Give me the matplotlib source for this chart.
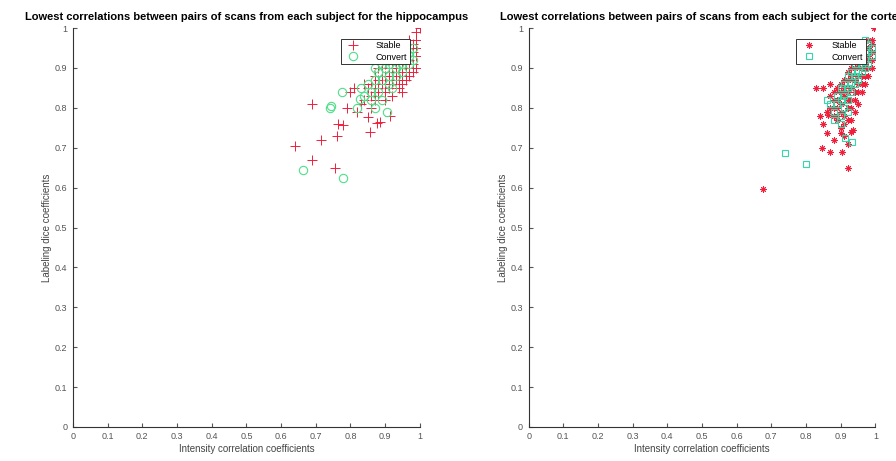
import numpy as np
import matplotlib.pyplot as plt

plt.rcParams['font.family'] = ['Liberation Sans', 'DejaVu Sans']

# hippocampus: lowest correlations per subject
hip_stable_x = [0.64, 0.69, 0.715, 0.69, 0.755, 0.764, 0.78, 0.76, 0.856, 0.876, 0.885, 0.82,
                0.85, 0.913, 0.80, 0.79, 0.83, 0.86, 0.88, 0.81, 0.84, 0.99, 1.0, 0.99,
                0.86, 0.87, 0.88, 0.89, 0.90, 0.91, 0.92, 0.93, 0.94, 0.95, 0.96, 0.97,
                0.98, 0.97, 0.96, 0.95, 0.94, 0.93, 0.92, 0.91, 0.90, 0.89, 0.88, 0.87,
                0.86, 0.90, 0.91, 0.92, 0.93, 0.94, 0.95, 0.96, 0.97, 0.98, 0.99, 0.98,
                0.97, 0.99, 0.89, 0.88, 0.87, 0.92, 0.93, 0.94, 0.95, 0.96, 0.90, 0.91,
                0.92, 0.93, 0.85, 0.84, 0.87, 0.90, 0.92, 0.95, 0.97, 0.98, 0.99, 0.96]
hip_stable_y = [0.704, 0.67, 0.72, 0.81, 0.65, 0.76, 0.757, 0.73, 0.74, 0.762, 0.765, 0.79,
                0.777, 0.78, 0.84, 0.80, 0.81, 0.80, 0.83, 0.85, 0.86, 0.97, 1.0, 0.99,
                0.86, 0.88, 0.87, 0.90, 0.88, 0.89, 0.90, 0.91, 0.92, 0.90, 0.93, 0.92,
                0.94, 0.95, 0.91, 0.88, 0.87, 0.89, 0.86, 0.85, 0.84, 0.86, 0.85, 0.84,
                0.83, 0.91, 0.92, 0.93, 0.94, 0.90, 0.92, 0.89, 0.90, 0.91, 0.93, 0.96,
                0.97, 0.95, 0.88, 0.90, 0.86, 0.88, 0.87, 0.85, 0.86, 0.87, 0.86, 0.87,
                0.91, 0.92, 0.85, 0.82, 0.82, 0.82, 0.83, 0.84, 0.88, 0.89, 0.90, 0.95]
hip_convert_x = [0.663, 0.778, 0.745, 0.775, 0.74, 0.827, 0.86, 0.87, 0.905, 0.83, 0.85, 0.87,
                 0.88, 0.89, 0.90, 0.91, 0.92, 0.93, 0.94, 0.95, 0.96, 0.97, 0.95, 0.93,
                 0.91, 0.89, 0.90, 0.92, 0.94, 0.96, 0.97, 0.98, 0.88, 0.86, 0.84, 0.82,
                 0.91, 0.93, 0.95, 0.97, 0.98, 0.89, 0.92, 0.87, 0.94]
hip_convert_y = [0.644, 0.624, 0.805, 0.84, 0.80, 0.822, 0.82, 0.80, 0.79, 0.85, 0.86, 0.87,
                 0.89, 0.87, 0.90, 0.88, 0.92, 0.90, 0.93, 0.91, 0.92, 0.94, 0.94, 0.93,
                 0.91, 0.91, 0.93, 0.94, 0.95, 0.96, 0.93, 0.92, 0.84, 0.84, 0.83, 0.80,
                 0.86, 0.88, 0.89, 0.91, 0.95, 0.82, 0.85, 0.90, 0.91]

# cortex: lowest correlations per subject
ctx_stable_x = [0.676, 0.92, 0.846, 0.87, 0.905, 0.86, 0.90, 0.936, 0.864, 0.89, 0.84, 0.85,
                0.995, 0.88, 0.92, 0.83, 0.85, 0.87,
                0.88, 0.89, 0.90, 0.91, 0.92, 0.93, 0.94, 0.95, 0.96, 0.97, 0.98, 0.99,
                0.99, 0.98, 0.97, 0.96, 0.95, 0.94, 0.93, 0.92, 0.91, 0.90, 0.89, 0.90,
                0.91, 0.92, 0.93, 0.94, 0.95, 0.96, 0.97, 0.98, 0.99, 0.98, 0.97, 0.96,
                0.95, 0.94, 0.93, 0.92, 0.91, 0.90, 0.89, 0.88, 0.87, 0.88, 0.89, 0.92,
                0.93, 0.94, 0.95, 0.96, 0.97, 0.98, 0.99, 0.99, 0.98, 0.97, 0.96, 0.91,
                0.93, 0.90, 0.88, 0.87, 0.86, 0.95, 0.94, 0.92, 0.93, 0.91]
ctx_stable_y = [0.596, 0.65, 0.70, 0.69, 0.69, 0.737, 0.737, 0.744, 0.782, 0.77, 0.78, 0.76,
                1.0, 0.72, 0.71, 0.85, 0.85, 0.86,
                0.80, 0.82, 0.84, 0.85, 0.87, 0.88, 0.90, 0.91, 0.92, 0.93, 0.95, 0.96,
                0.94, 0.92, 0.90, 0.88, 0.86, 0.84, 0.82, 0.80, 0.78, 0.79, 0.78, 0.81,
                0.83, 0.84, 0.85, 0.87, 0.88, 0.90, 0.91, 0.93, 0.97, 0.97, 0.95, 0.94,
                0.93, 0.92, 0.90, 0.89, 0.87, 0.86, 0.85, 0.84, 0.83, 0.82, 0.80, 0.82,
                0.80, 0.82, 0.84, 0.86, 0.88, 0.90, 0.92, 0.90, 0.88, 0.86, 0.84, 0.76,
                0.77, 0.75, 0.78, 0.80, 0.79, 0.81, 0.79, 0.77, 0.74, 0.73]
ctx_convert_x = [0.74, 0.80, 0.913, 0.933, 0.90, 0.91, 0.92, 0.93, 0.94, 0.95, 0.96, 0.97,
                 0.98, 0.99, 0.98, 0.97, 0.96, 0.95, 0.94, 0.93, 0.92, 0.91, 0.90, 0.89,
                 0.88, 0.89, 0.90, 0.91, 0.92, 0.93, 0.94, 0.95, 0.96, 0.97, 0.98, 0.87,
                 0.88, 0.90, 0.92, 0.86, 0.97, 0.99]
ctx_convert_y = [0.687, 0.66, 0.724, 0.714, 0.76, 0.80, 0.82, 0.84, 0.86, 0.87, 0.89, 0.90,
                 0.91, 0.93, 0.94, 0.92, 0.91, 0.89, 0.88, 0.86, 0.85, 0.83, 0.82, 0.81,
                 0.79, 0.83, 0.85, 0.86, 0.88, 0.89, 0.91, 0.92, 0.93, 0.94, 0.96, 0.81,
                 0.77, 0.78, 0.79, 0.82, 0.97, 0.95]

ticks = np.arange(0, 1.01, 0.1)
tick_labels = ['0', '0.1', '0.2', '0.3', '0.4', '0.5', '0.6', '0.7', '0.8', '0.9', '1']

fig = plt.figure(figsize=(8.96, 4.61), dpi=100)
ax1 = fig.add_axes([0.0815, 0.074, 0.387, 0.865])
ax2 = fig.add_axes([0.590, 0.074, 0.387, 0.865])

# (axes, region, stable x/y, stable marker/size, convert x/y, convert marker/size, convert colour)
panels = [
    (ax1, 'hippocampus', hip_stable_x, hip_stable_y, '+', 7,
     hip_convert_x, hip_convert_y, 'o', 6, '#4fe08a'),
    (ax2, 'cortex', ctx_stable_x, ctx_stable_y, (8, 2, 0), 4.5,
     ctx_convert_x, ctx_convert_y, 's', 4.5, '#35d8a8'),
]

for ax, region, sx, sy, smark, ssize, cx, cy, cmark, csize, ccol in panels:
    ax.plot(sx, sy, linestyle='none', marker=smark, color='#f0203c', markersize=ssize,
            markeredgewidth=0.7, label='Stable')
    ax.plot(cx, cy, linestyle='none', marker=cmark, markerfacecolor='none',
            markeredgecolor=ccol, markersize=csize, markeredgewidth=0.8, label='Convert')
    ax.set_xlim(0, 1)
    ax.set_ylim(0, 1)
    ax.set_xticks(ticks)
    ax.set_xticklabels(tick_labels)
    ax.set_yticks(ticks)
    ax.set_yticklabels(tick_labels)
    ax.tick_params(direction='in', length=3, labelsize=6.5, colors='#555555', pad=4)
    for side in ['top', 'right']:
        ax.spines[side].set_visible(False)
    for side in ['left', 'bottom']:
        ax.spines[side].set_color('#333333')
        ax.spines[side].set_linewidth(0.8)
    ax.set_xlabel('Intensity correlation coefficients', fontsize=7, color='#444444', labelpad=2)
    ax.set_ylabel('Labeling dice coefficients', fontsize=7, color='#444444', labelpad=2)
    ax.set_title('Lowest correlations between pairs of scans from each subject for the ' + region,
                 fontsize=8, fontweight='bold', pad=6)
    leg = ax.legend(loc='upper right', bbox_to_anchor=(0.985, 0.985), fontsize=6.5,
                    fancybox=False, framealpha=1, edgecolor='#333333',
                    borderpad=0.3, labelspacing=0.25, handlelength=2.2, handletextpad=1.4)
    leg.get_frame().set_linewidth(0.7)

fig.savefig('out.png', dpi=100)
